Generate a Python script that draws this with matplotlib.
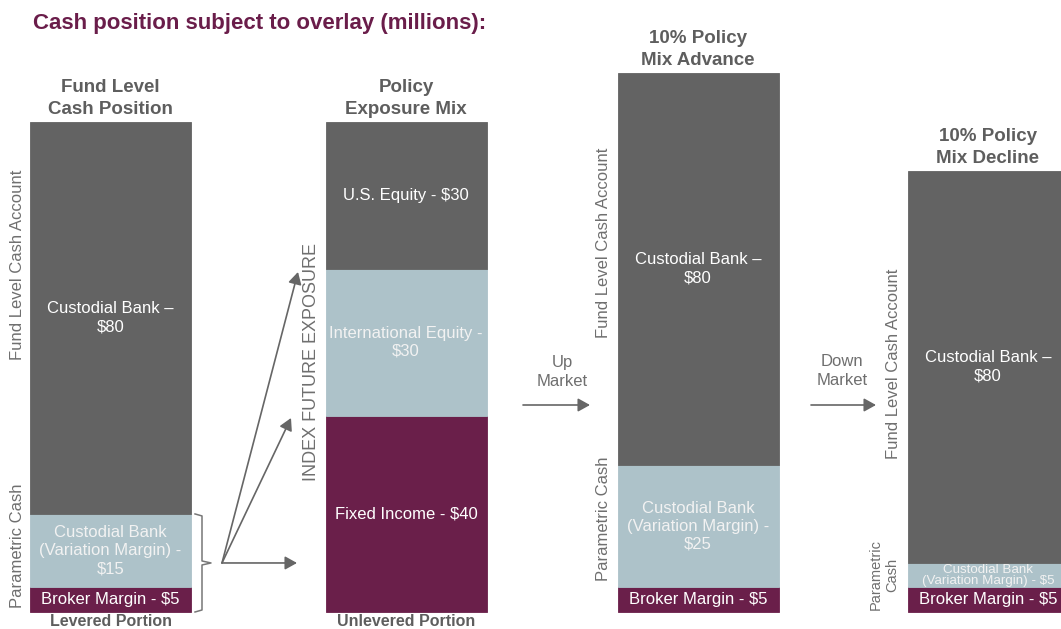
import matplotlib
matplotlib.use("Agg")
import matplotlib.pyplot as plt
import numpy as np

plt.rcParams['font.family'] = ['Liberation Sans', 'DejaVu Sans']

# ---------------- data ----------------
chart_title = "Cash position subject to overlay (millions):"
bar_titles = ["Fund Level\nCash Position", "Policy\nExposure Mix",
              "10% Policy\nMix Advance", "10% Policy\nMix Decline"]
bottom_values = [5, 40, 5, 5]      # Broker Margin / Fixed Income
middle_values = [15, 30, 25, 5]    # Custodial Bank (VM) / International Equity
top_values = [80, 30, 80, 80]      # Custodial Bank / U.S. Equity
bottom_labels = ["Broker Margin - $5", "Fixed Income - $40",
                 "Broker Margin - $5", "Broker Margin - $5"]
middle_labels = ["Custodial Bank\n(Variation Margin) -\n$15", "International Equity -\n$30",
                 "Custodial Bank\n(Variation Margin) -\n$25", "Custodial Bank\n(Variation Margin) - $5"]
top_labels = ["Custodial Bank –\n$80", "U.S. Equity - $30",
              "Custodial Bank –\n$80", "Custodial Bank –\n$80"]
footer_labels = ["Levered Portion", "Unlevered Portion", "", ""]

# ---------------- layout / style ----------------
W, H = 1061, 629
BASE_PX = 612.0          # pixel row (from top) of bar bottoms
PX_PER_UNIT = 4.903      # pixels per million
bar_centers_px = [110.5, 406, 698, 988]
bar_width_px = 161

DARK = "#636363"
LIGHT = "#adc2c9"
MAROON = "#6a1f4a"
TITLE_C = "#6a1d4a"
HEAD_C = "#5e5e5e"
SIDE_C = "#6f6f6f"
ARROW_C = "#666666"

fig = plt.figure(figsize=(W / 100, H / 100), dpi=100)
ax = fig.add_axes([0, 0, 1, 1])
ax.set_xlim(0, W)
ax.set_ylim((BASE_PX - H) / PX_PER_UNIT, BASE_PX / PX_PER_UNIT)
ax.axis("off")


def P(x_px, y_px):
    """pixel position (from top-left) -> data coordinates"""
    return x_px, (BASE_PX - y_px) / PX_PER_UNIT


x = np.array(bar_centers_px)
b = np.array(bottom_values, dtype=float)
m = np.array(middle_values, dtype=float)
t = np.array(top_values, dtype=float)

ax.bar(x, b, width=bar_width_px, color=MAROON, edgecolor=MAROON, linewidth=0.6)
ax.bar(x, m, bottom=b, width=bar_width_px, color=LIGHT, edgecolor=LIGHT, linewidth=0.6)
ax.bar(x, t, bottom=b + m, width=bar_width_px, color=DARK, edgecolor=DARK, linewidth=0.6)

for i in range(len(x)):
    ax.text(x[i], b[i] / 2, bottom_labels[i], ha="center", va="center",
            color="white", fontsize=12)
    small = middle_values[i] <= 5
    ax.text(x[i], b[i] + m[i] / 2, middle_labels[i], ha="center", va="center",
            color="#f2f2f2", fontsize=9.6 if small else 12,
            linespacing=0.9 if small else 1.25)
    ax.text(x[i], b[i] + m[i] + t[i] / 2, top_labels[i], ha="center", va="center",
            color="white", fontsize=12, linespacing=1.35)
    total = b[i] + m[i] + t[i]
    ax.annotate(bar_titles[i], xy=(x[i], total), xytext=(0, 3),
                textcoords="offset points", ha="center", va="bottom",
                fontsize=13.5, fontweight="bold", color=HEAD_C, linespacing=1.35)
    if footer_labels[i]:
        ax.annotate(footer_labels[i], xy=(x[i], 0), xytext=(0, -1.5),
                    textcoords="offset points", ha="center", va="top",
                    fontsize=11.5, fontweight="bold", color=HEAD_C)

# title
fig.text(33 / W, 1 - 23 / H, chart_title, ha="left", va="center",
         fontsize=16, fontweight="bold", color=TITLE_C)

# side labels
side = [
    ("Fund Level Cash Account", 18, 265, 12),
    ("Parametric Cash", 18, 546, 12),
    ("Fund Level Cash Account", 603, 243, 12),
    ("Parametric Cash", 604, 519, 12),
    ("Fund Level Cash Account", 893, 364, 12),
]
for s, px, py, fs in side:
    ax.text(*P(px, py), s, rotation=90, ha="center", va="center",
            color=SIDE_C, fontsize=fs)
ax.text(*P(884, 575), "Parametric\nCash", rotation=90, ha="center", va="center",
        color=SIDE_C, fontsize=10.5, linespacing=1.15)

ax.text(*P(311, 362), "INDEX FUTURE EXPOSURE", rotation=90, ha="center", va="center",
        color=SIDE_C, fontsize=13)

# bracket around parametric cash of the first bar
top_v = b[0] + m[0]
mid_v = top_v / 2
e = 2 / PX_PER_UNIT
bx = [195, 202, 202, 211, 202, 202, 195]
by = [top_v, top_v - e, mid_v + e, mid_v, mid_v - e, e, 0]
ax.plot(bx, by, color="#777777", lw=1.1, solid_joinstyle="round")

arrow_kw = dict(arrowstyle="-|>,head_length=0.36,head_width=0.2",
                color=ARROW_C, lw=1.2, mutation_scale=20,
                shrinkA=0, shrinkB=0)
origin = (222, mid_v)
for tip in [P(298, 272), P(291, 418), (297, mid_v)]:
    ax.annotate("", xy=tip, xytext=origin, arrowprops=arrow_kw)

# market move arrows
ax.text(*P(562, 372), "Up\nMarket", ha="center", va="center", color=SIDE_C,
        fontsize=12, linespacing=1.3)
ax.annotate("", xy=P(590, 405), xytext=P(523, 405), arrowprops=arrow_kw)
ax.text(*P(842, 371), "Down\nMarket", ha="center", va="center", color=SIDE_C,
        fontsize=12, linespacing=1.3)
ax.annotate("", xy=P(876, 405), xytext=P(811, 405), arrowprops=arrow_kw)

fig.savefig("out.png", dpi=100)
